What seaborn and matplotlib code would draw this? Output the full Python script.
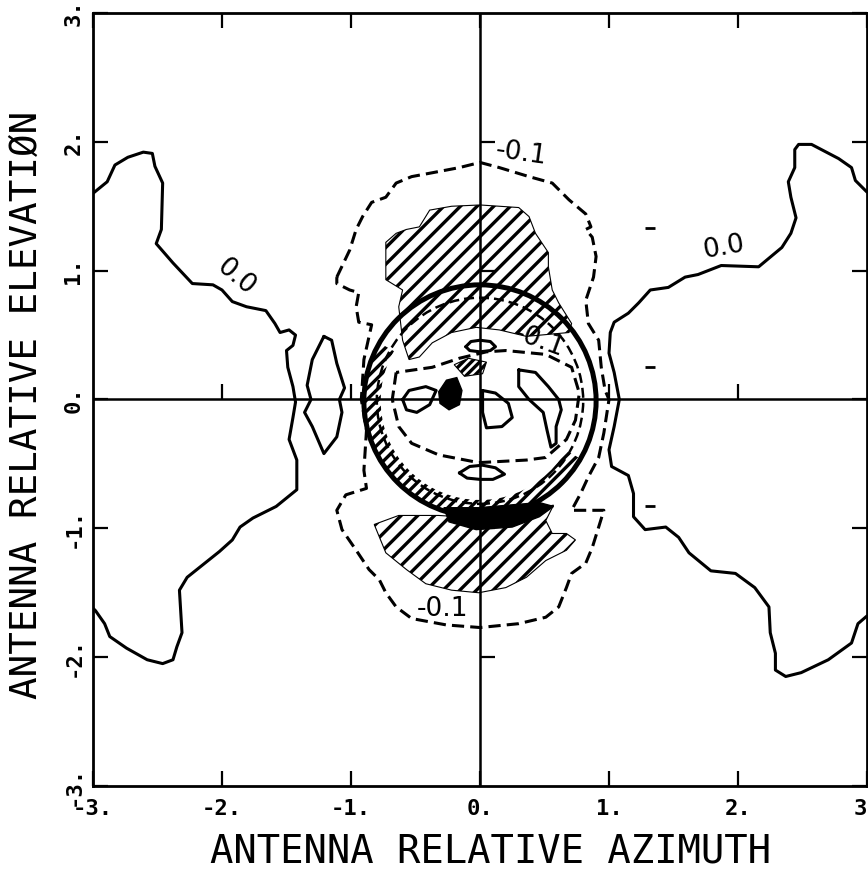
import numpy as np
import pandas as pd
import matplotlib
matplotlib.use('Agg')
import matplotlib.pyplot as plt
import seaborn as sns
from matplotlib.patches import Circle, Wedge

# contour outlines (azimuth, elevation)
left_zero = [(-3.00, 1.60), (-2.89, 1.69), (-2.83, 1.82), (-2.73, 1.88), (-2.61, 1.92), (-2.54, 1.91),
             (-2.52, 1.81), (-2.46, 1.68), (-2.47, 1.32), (-2.51, 1.21), (-2.38, 1.06), (-2.23, 0.90),
             (-2.07, 0.89), (-2.00, 0.85), (-1.92, 0.76), (-1.81, 0.72), (-1.66, 0.69), (-1.59, 0.59),
             (-1.55, 0.52), (-1.48, 0.54), (-1.43, 0.50), (-1.45, 0.42), (-1.50, 0.38), (-1.49, 0.25),
             (-1.45, 0.10), (-1.43, -0.02), (-1.45, -0.14), (-1.48, -0.31), (-1.42, -0.47), (-1.42, -0.70),
             (-1.58, -0.83), (-1.76, -0.92), (-1.86, -0.99), (-1.92, -1.09), (-2.02, -1.18), (-2.17, -1.30),
             (-2.27, -1.38), (-2.33, -1.48), (-2.31, -1.81), (-2.35, -1.92), (-2.38, -2.02), (-2.46, -2.05),
             (-2.58, -2.02), (-2.74, -1.93), (-2.87, -1.84), (-2.91, -1.74), (-2.98, -1.64), (-3.00, -1.62)]
right_zero = [(3.00, 1.61), (2.91, 1.70), (2.88, 1.80), (2.78, 1.87), (2.57, 1.98), (2.47, 1.98),
              (2.44, 1.94), (2.44, 1.80), (2.39, 1.69), (2.41, 1.57), (2.45, 1.41), (2.41, 1.29),
              (2.34, 1.18), (2.16, 1.03), (1.87, 1.04), (1.69, 0.97), (1.59, 0.95), (1.46, 0.87),
              (1.32, 0.85), (1.23, 0.75), (1.15, 0.67), (1.04, 0.60), (1.01, 0.52), (1.00, 0.36),
              (1.04, 0.21), (1.08, 0.00), (1.04, -0.21), (1.00, -0.39), (1.02, -0.52), (1.15, -0.59),
              (1.19, -0.73), (1.19, -0.91), (1.28, -1.01), (1.44, -0.99), (1.54, -1.07), (1.62, -1.19),
              (1.79, -1.33), (1.98, -1.35), (2.13, -1.46), (2.24, -1.61), (2.25, -1.81), (2.29, -1.97),
              (2.29, -2.10), (2.37, -2.15), (2.49, -2.12), (2.70, -2.02), (2.88, -1.89), (2.93, -1.74),
              (3.00, -1.68)]
left_island = [(-1.21, 0.49), (-1.30, 0.31), (-1.34, 0.11), (-1.31, 0.00), (-1.36, -0.10), (-1.30, -0.21),
               (-1.21, -0.42), (-1.11, -0.29), (-1.07, -0.10), (-1.09, 0.00), (-1.05, 0.09), (-1.11, 0.28),
               (-1.15, 0.46)]
top_oval = [(-0.11, 0.41), (-0.07, 0.45), (0.00, 0.46), (0.08, 0.45), (0.12, 0.41), (0.08, 0.38),
            (0.00, 0.37), (-0.08, 0.38)]
bottom_oval = [(-0.16, -0.57), (-0.08, -0.52), (0.02, -0.51), (0.12, -0.53), (0.19, -0.58), (0.10, -0.62),
               (0.00, -0.62), (-0.10, -0.61)]
right_blob = [(0.30, 0.23), (0.43, 0.21), (0.53, 0.10), (0.61, 0.00), (0.63, -0.08), (0.59, -0.21),
              (0.59, -0.34), (0.55, -0.37), (0.52, -0.24), (0.49, -0.10), (0.38, 0.00), (0.30, 0.10)]
centre_blob = [(0.02, 0.07), (0.12, 0.05), (0.22, -0.03), (0.25, -0.14), (0.17, -0.21), (0.05, -0.22),
               (0.02, -0.10)]
left_blob = [(-0.60, 0.00), (-0.55, 0.07), (-0.42, 0.10), (-0.34, 0.07), (-0.39, -0.04), (-0.49, -0.10),
             (-0.57, -0.08)]

outer_dash = [(-1.11, 0.95), (-1.01, 1.16), (-0.96, 1.32), (-0.91, 1.42), (-0.84, 1.53), (-0.73, 1.57),
              (-0.65, 1.68), (-0.53, 1.73), (-0.37, 1.76), (-0.16, 1.80), (0.00, 1.84), (0.15, 1.80),
              (0.38, 1.73), (0.56, 1.68), (0.69, 1.55), (0.82, 1.44), (0.86, 1.34), (0.82, 1.32),
              (0.87, 1.26), (0.90, 1.11), (0.88, 0.95), (0.82, 0.77), (0.84, 0.59), (0.92, 0.46),
              (0.94, 0.25), (0.97, 0.07), (1.00, 0.00), (0.96, -0.26), (0.92, -0.45), (0.84, -0.60),
              (0.78, -0.73), (0.71, -0.86), (0.96, -0.86), (0.92, -0.99), (0.87, -1.15), (0.82, -1.27),
              (0.71, -1.35), (0.67, -1.46), (0.61, -1.61), (0.51, -1.69), (0.30, -1.74), (0.00, -1.77),
              (-0.26, -1.75), (-0.53, -1.70), (-0.65, -1.61), (-0.73, -1.50), (-0.78, -1.40), (-0.86, -1.32),
              (-0.96, -1.17), (-1.07, -1.01), (-1.11, -0.86), (-1.04, -0.74), (-0.88, -0.69), (-0.90, -0.55),
              (-0.88, -0.24), (-0.92, 0.00), (-0.90, 0.31), (-0.84, 0.58), (-0.94, 0.60), (-0.96, 0.72),
              (-0.94, 0.83), (-1.01, 0.85), (-1.11, 0.90)]
inner_dash = [(-0.65, 0.21), (-0.68, 0.00), (-0.63, -0.21), (-0.53, -0.34), (-0.32, -0.43), (-0.01, -0.49),
              (0.36, -0.47), (0.51, -0.45), (0.67, -0.31), (0.74, -0.16), (0.77, 0.05), (0.71, 0.25),
              (0.51, 0.35), (0.20, 0.38), (0.05, 0.37), (-0.16, 0.32), (-0.37, 0.25)]

upper_hatch = [(-0.39, 1.47), (-0.22, 1.50), (0.00, 1.51), (0.30, 1.49), (0.38, 1.42), (0.43, 1.29),
               (0.53, 1.14), (0.53, 1.03), (0.56, 0.85), (0.61, 0.75), (0.71, 0.59), (0.69, 0.52),
               (0.36, 0.49), (0.15, 0.54), (-0.03, 0.56), (-0.22, 0.52), (-0.37, 0.44), (-0.47, 0.33),
               (-0.55, 0.31), (-0.60, 0.46), (-0.63, 0.72), (-0.60, 0.85), (-0.73, 0.93), (-0.73, 1.22),
               (-0.65, 1.29), (-0.57, 1.32), (-0.47, 1.34)]
lower_hatch = [(-0.82, -0.97), (-0.73, -1.19), (-0.57, -1.32), (-0.42, -1.43), (-0.22, -1.48), (-0.01, -1.50),
               (0.20, -1.46), (0.36, -1.38), (0.51, -1.25), (0.67, -1.17), (0.74, -1.09), (0.67, -1.04),
               (0.56, -1.04), (0.51, -0.94), (0.57, -0.82), (0.30, -0.87), (-0.01, -0.92), (-0.32, -0.90),
               (-0.63, -0.90)]
centre_hatch = [(-0.20, 0.27), (-0.09, 0.32), (0.05, 0.29), (0.02, 0.20), (-0.12, 0.18)]
black_low = [(-0.28, -0.84), (-0.24, -0.95), (-0.03, -1.01), (0.25, -0.99), (0.46, -0.91), (0.57, -0.83),
             (0.46, -0.80), (0.22, -0.82), (-0.01, -0.84)]
black_mid = [(-0.32, 0.06), (-0.26, 0.15), (-0.18, 0.17), (-0.14, 0.07), (-0.16, -0.04), (-0.24, -0.08),
             (-0.31, -0.03)]

# boundary circle of the antenna aperture and a dashed ring inside it
ring_centre = (0.0, -0.01)
ring_radius = 0.90
dash_ring_radius = 0.80

stray_x = [1.32, 1.32, 1.32]
stray_y = [1.33, 0.25, -0.83]

label_text = ['0.0', '0.0', '-0.1', '-0.1', '-0.1']
label_x = [-1.89, 1.89, 0.32, -0.29, 0.46]
label_y = [0.95, 1.18, 1.91, -1.63, 0.45]
label_rot = [-40, 10, -8, 0, -20]

ticks = [-3, -2, -1, 0, 1, 2, 3]
tick_labels = ['-3.', '-2.', '-1.', '0.', '1.', '2.', '3']
axis_ticks = [-2, -1, 1, 2]


def to_frame(pieces, closed):
    rows = []
    for name, pts in pieces.items():
        pts = list(pts) + ([pts[0]] if closed[name] else [])
        for x, y in pts:
            rows.append({'piece': name, 'x': x, 'y': y})
    return pd.DataFrame(rows)


sns.set_style('ticks')
plt.rcParams['font.family'] = ['DejaVu Sans Mono', 'DejaVu Sans']
plt.rcParams['hatch.linewidth'] = 2.4
plt.rcParams['text.color'] = 'k'
plt.rcParams['axes.labelcolor'] = 'k'
plt.rcParams['xtick.color'] = 'k'
plt.rcParams['ytick.color'] = 'k'

fig = plt.figure(figsize=(8.68, 8.71), dpi=100)
ax = fig.add_axes([93 / 868, 85 / 871, 774 / 868, 773 / 871])

solid = {'left_zero': left_zero, 'right_zero': right_zero, 'left_island': left_island,
         'top_oval': top_oval, 'bottom_oval': bottom_oval, 'right_blob': right_blob,
         'centre_blob': centre_blob, 'left_blob': left_blob}
solid_closed = {k: k not in ('left_zero', 'right_zero') for k in solid}
dashed = {'outer_dash': outer_dash, 'inner_dash': inner_dash}
dashed_closed = {k: True for k in dashed}

solid_df = to_frame(solid, solid_closed)
dashed_df = to_frame(dashed, dashed_closed)

sns.lineplot(data=solid_df, x='x', y='y', units='piece', estimator=None, sort=False,
             color='k', lw=2.2, ax=ax)
sns.lineplot(data=dashed_df, x='x', y='y', units='piece', estimator=None, sort=False,
             color='k', lw=2.2, ls=(0, (4, 2)), ax=ax)

# hatched and solid filled regions
for pts, hatch in [(upper_hatch, '//'), (lower_hatch, '//'), (centre_hatch, '////')]:
    xs, ys = zip(*pts)
    ax.fill(xs, ys, facecolor='none', edgecolor='k', hatch=hatch, lw=0.8)
ax.add_patch(Wedge(ring_centre, ring_radius, 150, 330, width=0.13, facecolor='none',
                   edgecolor='k', hatch='///', lw=0))
for pts in [black_low, black_mid]:
    xs, ys = zip(*pts)
    ax.fill(xs, ys, color='k', lw=1)

ax.add_patch(Circle(ring_centre, ring_radius, fill=False, color='k', lw=3.6))
ax.add_patch(Circle(ring_centre, dash_ring_radius, fill=False, color='k', lw=1.8, ls=(0, (4, 2))))

# crosshair through the boresight with its own inward ticks
ax.axhline(0, color='k', lw=1.8)
ax.axvline(0, color='k', lw=1.8)
ax.plot(axis_ticks, [0] * len(axis_ticks), ls='none', marker=2, ms=11, mew=1.6, color='k')
ax.plot([0] * len(axis_ticks), axis_ticks, ls='none', marker=1, ms=11, mew=1.6, color='k')
ax.plot(stray_x, stray_y, ls='none', marker='_', ms=7, mew=2, color='k')

for t, x, y, r in zip(label_text, label_x, label_y, label_rot):
    ax.text(x, y, t, fontsize=19, rotation=r, ha='center', va='center',
            family='DejaVu Sans', color='k')

ax.set_xlim(-3, 3)
ax.set_ylim(-3, 3)
ax.set_xticks(ticks)
ax.set_yticks(ticks)
ax.set_xticklabels(tick_labels, fontsize=16, fontweight='bold')
ax.set_yticklabels(tick_labels[:-1] + ['3.'], fontsize=16, fontweight='bold', rotation=90, va='center')
ax.get_xticklabels()[-1].set_ha('right')
ax.tick_params(direction='in', length=11, width=1.6, top=True, right=True, color='k')
ax.tick_params(axis='x', pad=9)
ax.tick_params(axis='y', pad=7)
for s in ax.spines.values():
    s.set_linewidth(2.0)
    s.set_color('k')

ax.set_xlabel('ANTENNA RELATIVE AZIMUTH', fontsize=28)
ax.set_ylabel('ANTENNA RELATIVE ELEVATIØN', fontsize=27)
ax.xaxis.label.set_va('center')
ax.yaxis.label.set_va('center')
ax.xaxis.set_label_coords(0.513, -0.085)
ax.yaxis.set_label_coords(-0.085, 0.493)

fig.savefig('out.png', dpi=100)
